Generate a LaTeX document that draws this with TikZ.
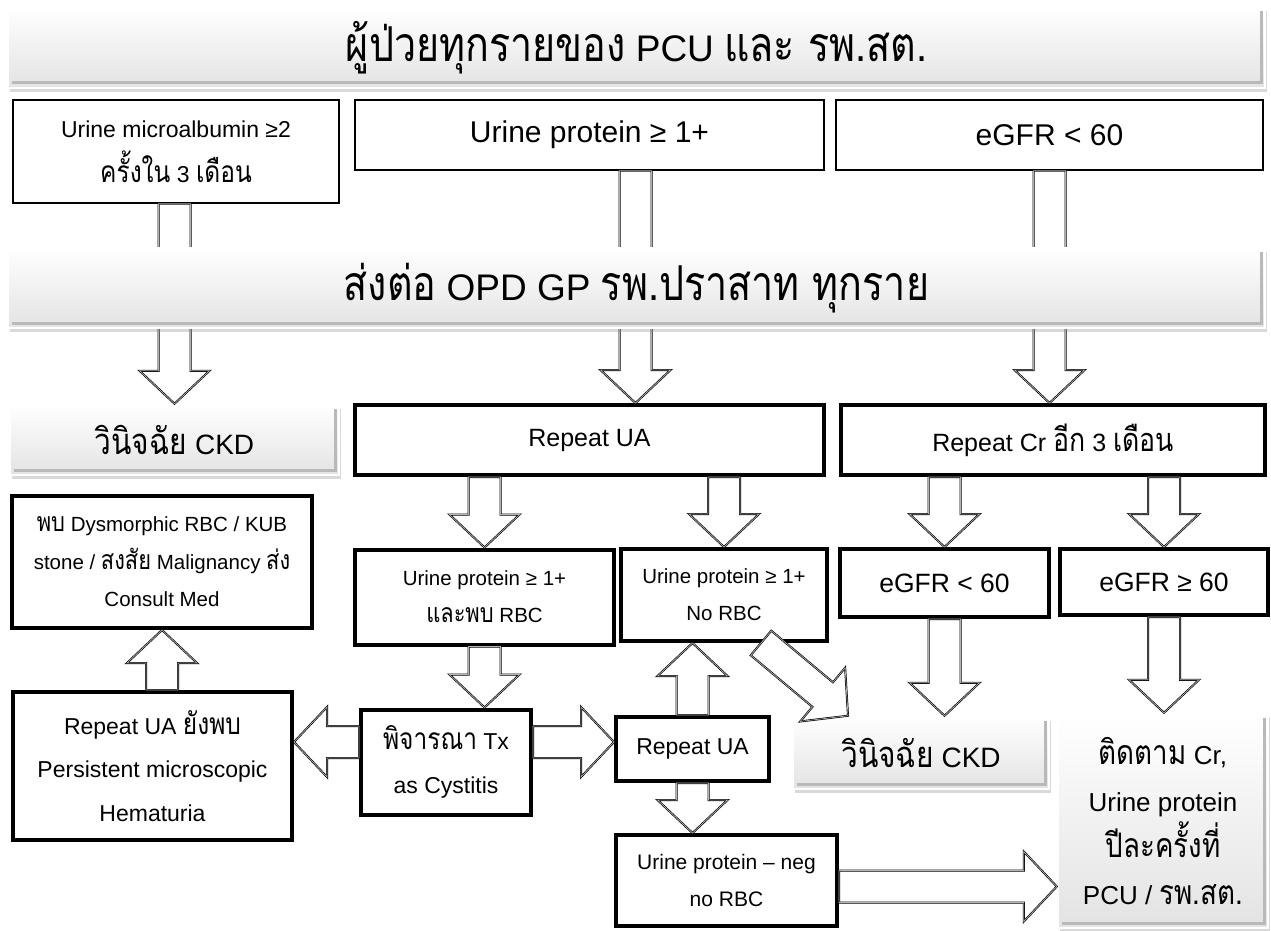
\documentclass[tikz,border=0pt]{standalone}
\usepackage{fontspec}
\setmainfont{Liberation Sans}
\newfontfamily\thaifont[Script=Thai,Scale=1.3,FakeStretch=0.82]{Loma}
\newcommand{\tha}[1]{{\thaifont #1}}
\usetikzlibrary{calc,shadows}

\begin{document}
\begin{tikzpicture}[x=1pt,y=-1pt]
            \tikzstyle{thinbox}=[draw, line width=1.3pt, fill=white, inner sep=0pt, align=center]
            \tikzstyle{thickbox}=[draw, line width=4pt, fill=white, inner sep=0pt, align=center]
            \tikzstyle{glossy}=[draw=white, line width=2.5pt, top color=white, bottom color=gray!22,
                drop shadow={opacity=0.3, shadow xshift=2pt, shadow yshift=-4pt}, inner sep=0pt, align=center,
                path picture={\draw[gray!55, line width=3pt]
                    ([xshift=4pt,yshift=5pt]path picture bounding box.south west) --
                    ([xshift=-4pt,yshift=5pt]path picture bounding box.south east) --
                    ([xshift=-4pt,yshift=-4pt]path picture bounding box.north east);}]
            \tikzstyle{fatarrow}=[fill=white, draw=black, line width=2pt, line join=miter,
                postaction={draw=gray!60, line width=0.7pt},
                to path={($(\tikztostart)!16pt!90:(\tikztotarget)$)
                    -- ($($(\tikztotarget)!33pt!(\tikztostart)$)!16pt!90:(\tikztotarget)$)
                    -- ($($(\tikztotarget)!33pt!(\tikztostart)$)!35pt!90:(\tikztotarget)$)
                    -- (\tikztotarget)
                    -- ($($(\tikztotarget)!33pt!(\tikztostart)$)!35pt!-90:(\tikztotarget)$)
                    -- ($($(\tikztotarget)!33pt!(\tikztostart)$)!16pt!-90:(\tikztotarget)$)
                    -- ($(\tikztostart)!16pt!-90:(\tikztotarget)$) -- cycle}]

            \useasboundingbox (0,0) rectangle (1271,931);

            % title
            \node[glossy, minimum width=1257pt, minimum height=81pt, font=\fontsize{37}{40}\selectfont] (top) at (636.5,47.5)
                {\tha{ผู้ป่วยทุกรายของ} PCU \tha{และ รพ.สต.}};

            % criteria
            \node[thinbox, minimum width=326pt, minimum height=103pt, font=\fontsize{23}{45}\selectfont] (boxA) at (176,151.5)
                {Urine microalbumin ≥2\\ \tha{ครั้งใน} 3 \tha{เดือน}};
            \node[thinbox, minimum width=469pt, minimum height=70pt, font=\fontsize{30}{34}\selectfont] (boxB) at (589.5,135)
                {Urine protein ≥ 1+};
            \node[thinbox, minimum width=427pt, minimum height=70pt, font=\fontsize{30}{34}\selectfont] (boxC) at (1049.5,135)
                {eGFR < 60};

            % second row
            \node[glossy, minimum width=329pt, minimum height=70pt, font=\fontsize{28}{32}\selectfont] (ckdA) at (174.5,440)
                {\tha{วินิจฉัย} CKD};
            \node[thickbox, minimum width=469pt, minimum height=70pt, font=\fontsize{25}{30}\selectfont] (repUA) at (589.5,440)
                {Repeat UA};
            \node[thickbox, minimum width=424pt, minimum height=70pt, font=\fontsize{25}{30}\selectfont] (repCr) at (1053,440)
                {Repeat Cr \tha{อีก} 3 \tha{เดือน}};

            % third row
            \node[thickbox, minimum width=300pt, minimum height=132pt, font=\fontsize{20.5}{37.5}\selectfont] (dysm) at (162,562)
                {\tha{พบ} Dysmorphic RBC / KUB\\ stone / \tha{สงสัย} Malignancy \tha{ส่ง}\\ Consult Med};
            \node[thickbox, minimum width=259pt, minimum height=95pt, font=\fontsize{20.5}{37}\selectfont] (rbc) at (484.5,597)
                {Urine protein ≥ 1+\\ \tha{และพบ} RBC};
            \node[thickbox, minimum width=206pt, minimum height=92pt, font=\fontsize{20.5}{37}\selectfont] (norbc) at (724,595)
                {Urine protein ≥ 1+\\ No RBC};
            \node[thickbox, minimum width=209pt, minimum height=68pt, font=\fontsize{26.5}{30}\selectfont] (egfrlt) at (944.5,583)
                {eGFR < 60};
            \node[thickbox, minimum width=208pt, minimum height=66pt, font=\fontsize{26.5}{30}\selectfont] (egfrge) at (1164,582)
                {eGFR ≥ 60};

            % bottom rows
            \node[thickbox, minimum width=279pt, minimum height=148pt, font=\fontsize{23}{43.5}\selectfont] (persist) at (152.5,766)
                {Repeat UA \tha{ยังพบ}\\ Persistent microscopic\\ Hematuria};
            \node[thickbox, minimum width=170pt, minimum height=105pt, font=\fontsize{23}{44}\selectfont] (pij) at (446,762)
                {\tha{พิจารณา} Tx\\ as Cystitis};
            \node[thickbox, minimum width=153pt, minimum height=64pt, font=\fontsize{23}{28}\selectfont] (rua2) at (692.5,749)
                {Repeat UA};
            \node[thickbox, minimum width=221pt, minimum height=91pt, font=\fontsize{21}{37}\selectfont] (neg) at (726.5,880.5)
                {Urine protein -- neg\\ no RBC};
            \node[glossy, minimum width=256pt, minimum height=72pt, font=\fontsize{28}{32}\selectfont] (ckdB) at (921,753)
                {\tha{วินิจฉัย} CKD};
            \node[glossy, minimum width=210pt, minimum height=214pt, font=\fontsize{26}{46.5}\selectfont] (follow) at (1163,821)
                {\tha{ติดตาม} Cr,\\ Urine protein\\ \tha{ปีละครั้งที่}\\ PCU / \tha{รพ.สต.}};

            % block arrows
            \draw[fatarrow] (boxA.south -| ckdA.north) to (ckdA.north);
            \draw[fatarrow] ([xshift=46pt]boxB.south) to ([xshift=46pt]repUA.north);
            \draw[fatarrow] (boxC.south) to (boxC.south |- repCr.north);
            \draw[fatarrow] (repUA.south -| rbc.north) to (rbc.north);
            \draw[fatarrow] (repUA.south -| norbc.north) to (norbc.north);
            \draw[fatarrow] (repCr.south -| egfrlt.north) to (egfrlt.north);
            \draw[fatarrow] (repCr.south -| egfrge.north) to (egfrge.north);
            \draw[fatarrow] (persist.north -| dysm.south) to (dysm.south);
            \draw[fatarrow] (rbc.south) to (rbc.south |- pij.north);
            \draw[fatarrow] ([yshift=20pt]pij.west) to ([yshift=20pt]pij.west -| persist.east);
            \draw[fatarrow] ([yshift=20pt]pij.east) to ([yshift=20pt]pij.east -| rua2.west);
            \draw[fatarrow] (rua2.north) to (rua2.north |- norbc.south);
            \draw[fatarrow] (rua2.south) to (rua2.south |- neg.north);
            \draw[fatarrow] ([xshift=37pt]norbc.south) to ([xshift=-73pt]ckdB.north);
            \draw[fatarrow] (egfrlt.south) to (egfrlt.south |- ckdB.north);
            \draw[fatarrow] (egfrge.south) to (egfrge.south |- follow.north);
            \draw[fatarrow] ([yshift=-6pt]neg.east) to ([yshift=-6pt]neg.east -| follow.west);

            % referral bar, over the arrows
            \node[glossy, minimum width=1257pt, minimum height=80pt, font=\fontsize{37}{40}\selectfont] (opd) at (636.5,288)
                {\tha{ส่งต่อ} OPD GP \tha{รพ.ปราสาท ทุกราย}};
\end{tikzpicture}
\end{document}
